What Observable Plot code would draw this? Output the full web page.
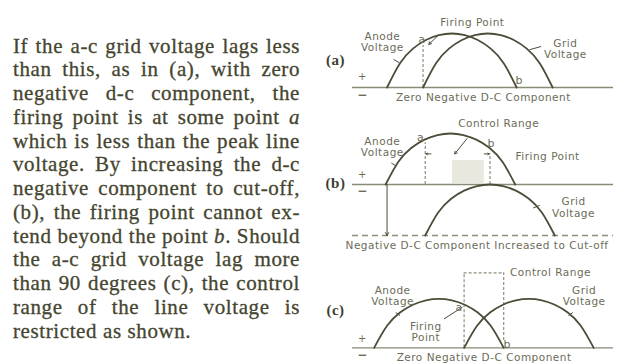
<!DOCTYPE html>
<html>
<head>
<meta charset="utf-8">
<script src="https://cdn.jsdelivr.net/npm/d3@7"></script>
<script src="https://cdn.jsdelivr.net/npm/@observablehq/plot@0.6"></script>
<style>
  html, body { margin: 0; padding: 0; background: #fff; }
  #page { position: relative; width: 623px; height: 363px; overflow: hidden; background: #fff; }
  #text {
    position: absolute; left: 13px; top: 34.5px; width: 287px;
    font-family: "Liberation Serif", "DejaVu Serif", serif;
    font-size: 21px; line-height: 23.75px; letter-spacing: 0.6px;
    color: #45452f; -webkit-text-stroke: 0.3px #45452f;
  }
  #text div { text-align: justify; text-align-last: justify; white-space: nowrap; }
  #text div.last { text-align-last: left; }
  .fig { position: absolute; left: 323px; }
</style>
</head>
<body>
<div id="page">
  <div id="text"></div>
  <div class="fig" id="fa" style="top:0px"></div>
  <div class="fig" id="fb" style="top:105px"></div>
  <div class="fig" id="fc" style="top:250px"></div>
</div>
<script>
// Running text, one entry per printed line (*x* marks italics)
const paragraph = [
  "If the a-c grid voltage lags less",
  "than this, as in (a), with zero",
  "negative d-c component, the",
  "firing point is at some point *a*",
  "which is less than the peak line",
  "voltage. By increasing the d-c",
  "negative component to cut-off,",
  "(b), the firing point cannot ex-",
  "tend beyond the point *b*. Should",
  "the a-c grid voltage lag more",
  "than 90 degrees (c), the control",
  "range of the line voltage is",
  "restricted as shown."
];

// One positive half cycle: electrical degrees and relative voltage
const arcPhase = [0, 18, 36, 54, 72, 90, 108, 126, 144, 162, 180];
const arcLevel = [0, 0.45, 0.72, 0.88, 0.97, 1, 0.97, 0.88, 0.72, 0.45, 0];

// The three cases
const panels = ["(a)", "(b)", "(c)"];
const gridLag = [50, 55, 125];     // degrees the grid voltage lags the anode voltage
const gridBias = [0, -1, 0];       // negative d-c component (1 = cut-off)
const baseCaptions = ["Zero Negative D-C Component", "Negative D-C Component Increased to Cut-off", "Zero Negative D-C Component"];

// ---- text column
const textBox = document.getElementById("text");
paragraph.forEach((line, i) => {
  const div = document.createElement("div");
  if (i === paragraph.length - 1) div.className = "last";
  div.innerHTML = line.replace(/\*(.+?)\*/g, "<i>$1</i>");
  textBox.appendChild(div);
});

// ---- diagrams
const ink = "#4c4c38";
const noteInk = "#6c6c58";
const dashInk = "#8e8e7c";
const baseInk = "#8a8a76";

const halfWave = (shift, bias) => arcPhase.map((p, i) => ({x: p + shift, y: arcLevel[i] + bias}));
const anode = halfWave(0, 0);
const gridWave = k => halfWave(gridLag[k], gridBias[k]);

const note = (t, x, y, o = {}) =>
  Plot.text([{x, y, t}], {x: "x", y: "y", text: "t", fill: noteInk, fontSize: 10.5, lineHeight: 1.05, ...o});
const seg = (x1, y1, x2, y2, o = {}) =>
  Plot.link([{x1, y1, x2, y2}], {x1: "x1", y1: "y1", x2: "x2", y2: "y2", stroke: ink, strokeWidth: 1, ...o});
const arrow = (x1, y1, x2, y2, o = {}) =>
  Plot.arrow([{x1, y1, x2, y2}], {x1: "x1", y1: "y1", x2: "x2", y2: "y2", stroke: ink, strokeWidth: 1, headLength: 5, ...o});
const vdash = (x, y1, y2) =>
  Plot.ruleX([{x, y1, y2}], {x: "x", y1: "y1", y2: "y2", stroke: dashInk, strokeWidth: 1.2, strokeDasharray: "3,2"});
const wave = data => Plot.line(data, {x: "x", y: "y", curve: "natural", stroke: ink, strokeWidth: 1.8});
const panelTag = (k, y) =>
  Plot.text([panels[k]], {frameAnchor: "left", textAnchor: "middle", dx: -17, y: () => y, fill: "#3e3e2e", fontSize: 15, fontWeight: "bold", fontFamily: "Liberation Serif, serif"});
const signs = (yPlus, yMinus) => [
  Plot.text(["+"], {frameAnchor: "left", textAnchor: "middle", dx: 10, y: () => yPlus, fill: noteInk, fontSize: 10}),
  Plot.text(["\u2212"], {frameAnchor: "left", textAnchor: "middle", dx: 10, y: () => yMinus, fill: noteInk, fontSize: 12, fontWeight: "bold"})
];

function diagram(height, xDomain, yDomain, marks) {
  return Plot.plot({
    width: 300, height,
    marginLeft: 29, marginRight: 10, marginTop: 0, marginBottom: 0,
    x: {domain: xDomain, axis: null},
    y: {domain: yDomain, axis: null},
    style: {background: "transparent", overflow: "visible", fontFamily: "DejaVu Sans, sans-serif", letterSpacing: "0.5px"},
    marks
  });
}

// (a) small lag, no bias
document.getElementById("fa").appendChild(diagram(105, [-48, 314.5], [-0.333, 1.611], [
  Plot.ruleY([0], {stroke: baseInk, strokeWidth: 1.3}),
  vdash(gridLag[0], 0, 0.78),
  wave(anode),
  wave(gridWave(0)),
  arrow(70, 0.95, 58, 0.8, {headLength: 4}),
  seg(9, 0.52, 17, 0.46),
  seg(198, 0.7, 214, 0.76),
  note("Firing Point", 118.5, 1.21),
  note("Anode\nVoltage", -6.5, 0.84),
  note("a", 48.6, 0.9, {fontSize: 11}),
  note("b", 183.7, 0.13, {fontSize: 11}),
  note("Grid\nVoltage", 247.6, 0.72),
  note(baseCaptions[0], 133.75, -0.18),
  panelTag(0, 0.5),
  ...signs(0.19, -0.135)
]));

// (b) bias increased to cut-off
document.getElementById("fb").appendChild(diagram(145, [-46, 316.5], [-1.294, 1.549], [
  Plot.rect([{x1: 93, x2: 137, y1: 0.02, y2: 0.47}], {x1: "x1", x2: "x2", y1: "y1", y2: "y2", fill: "#e8e8de"}),
  Plot.ruleY([0], {stroke: baseInk, strokeWidth: 1.3}),
  Plot.ruleY([gridBias[1]], {stroke: dashInk, strokeWidth: 1.3, strokeDasharray: "6,4"}),
  vdash(gridLag[1], 0, 0.82),
  vdash(gridLag[1] + 90, 0, 0.6),
  wave(anode),
  wave(gridWave(1)),
  arrow(2, 0, 2, gridBias[1]),
  arrow(63, 0.6, 56, 0.6, {headLength: 4}),
  arrow(137, 0.6, 144, 0.6, {headLength: 4}),
  arrow(113, 0.9, 96, 0.6, {headLength: 4}),
  seg(8, 0.42, 15, 0.36),
  seg(205, -0.46, 214, -0.41),
  note("Control Range", 157, 1.19),
  note("Anode\nVoltage", -4.6, 0.745),
  note("a", 48.6, 0.916, {fontSize: 11}),
  note("b", 146.8, 0.8, {fontSize: 11}),
  note("Firing Point", 225, 0.55),
  note("Grid\nVoltage", 261, -0.45),
  note(baseCaptions[1], 127, -1.196),
  panelTag(1, 0.02),
  ...signs(0.2, -0.13)
]));

// (c) lag beyond 90 degrees
document.getElementById("fc").appendChild(diagram(113, [-30, 332.5], [-0.32, 1.986], [
  Plot.ruleY([0], {stroke: baseInk, strokeWidth: 1.3}),
  vdash(gridLag[2], 0, 1.53),
  vdash(180, 0.15, 1.53),
  Plot.ruleY([{y: 1.53, x1: gridLag[2], x2: 180}], {y: "y", x1: "x1", x2: "x2", stroke: dashInk, strokeWidth: 1.2, strokeDasharray: "3,2"}),
  wave(anode),
  wave(gridWave(2)),
  seg(97, 0.59, 122.8, 0.83),
  seg(30, 0.72, 36, 0.66),
  seg(270, 0.66, 276, 0.72),
  note("Control Range", 245, 1.53),
  note("a", 118, 0.83, {fontSize: 11}),
  note("b", 185, 0.08, {fontSize: 11}),
  note("Anode\nVoltage", 25.7, 1.05),
  note("Grid\nVoltage", 291.7, 1.05),
  note("Firing\nPoint", 71.8, 0.33),
  note(baseCaptions[2], 152.8, -0.19),
  panelTag(2, 0.76),
  ...signs(0.18, -0.157)
]));
</script>
</body>
</html>
